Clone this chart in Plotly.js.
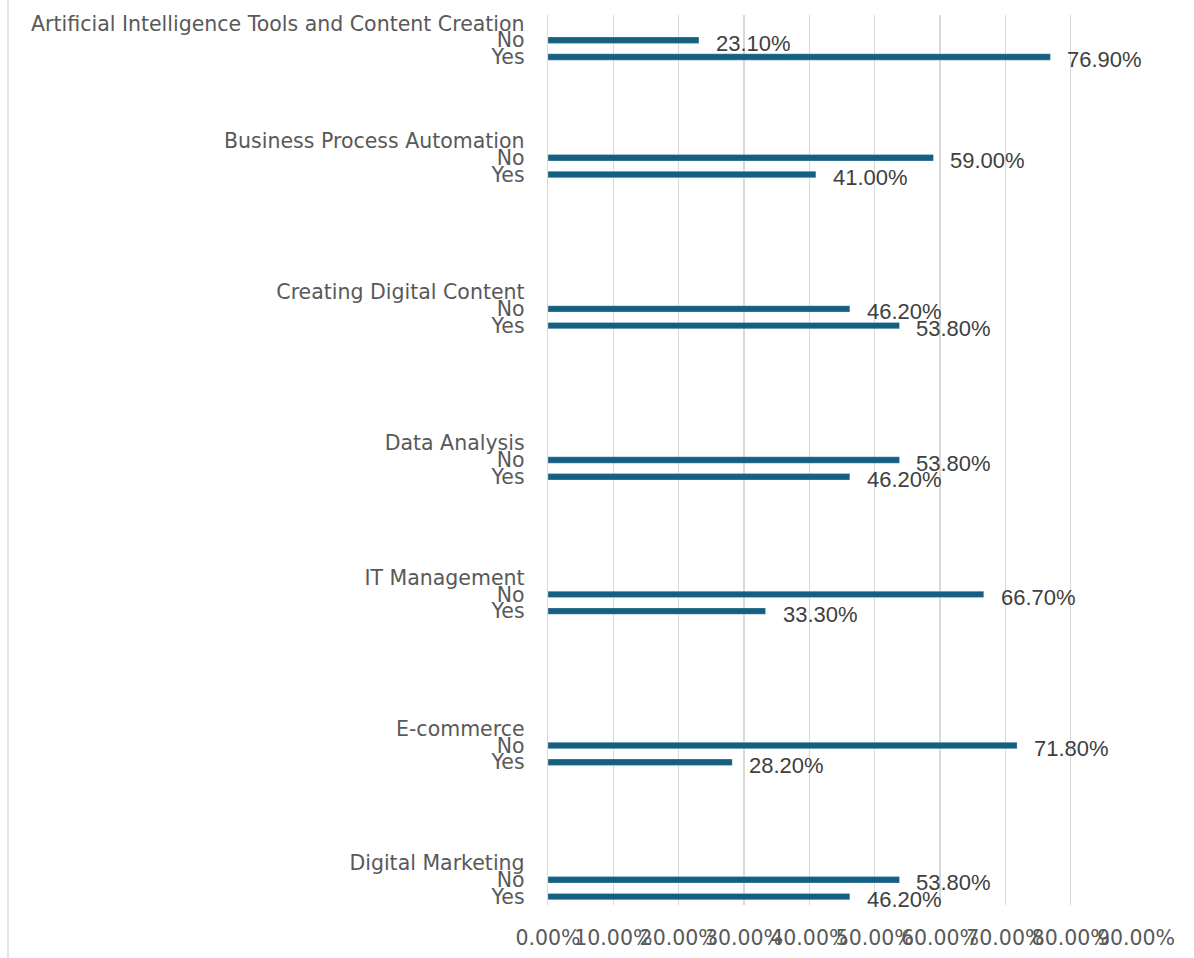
<!DOCTYPE html>
<html><head><meta charset="utf-8">
<script src="https://cdn.plot.ly/plotly-3.0.1.min.js"></script>
<style>html,body{margin:0;padding:0;background:#fff}#chart{width:1194px;height:958px}</style>
</head><body><div id="chart"></div>
<script>
// ---- data ----
const categories = [
  'Artificial Intelligence Tools and Content Creation',
  'Business Process Automation',
  'Creating Digital Content',
  'Data Analysis',
  'IT Management',
  'E-commerce',
  'Digital Marketing'
];
const answerLabels = ['No', 'Yes'];
const noValues  = [23.1, 59.0, 46.2, 53.8, 66.7, 71.8, 53.8];
const yesValues = [76.9, 41.0, 53.8, 46.2, 33.3, 28.2, 46.2];
const xTickValues = [0, 10, 20, 30, 40, 50, 60, 70, 80, 90];
const xTickLabels = ['0.00%', '10.00%', '20.00%', '30.00%', '40.00%', '50.00%', '60.00%', '70.00%', '80.00%', '90.00%'];

// ---- layout of the category rows (header row, No, Yes, then spacer rows) ----
const groupRows = [0, 7, 16, 25, 33, 42, 50];
const totalRows = 53;

const AXIS_FONT = '"DejaVu Sans", Inter, sans-serif';
const LABEL_FONT = '"Liberation Sans", Arial, sans-serif';
const barY = [], barX = [], tickVals = [], tickText = [], annotations = [];
categories.forEach((c, i) => {
  const r = groupRows[i];
  tickVals.push(r); tickText.push(c);
  [noValues[i], yesValues[i]].forEach((v, k) => {
    barY.push(r + 1 + k); barX.push(v);
    tickVals.push(r + 1 + k); tickText.push(answerLabels[k]);
    annotations.push({
      x: v, y: r + 1 + k, xref: 'x', yref: 'y',
      text: v.toFixed(2) + '%', showarrow: false,
      xanchor: 'left', yanchor: 'middle', xshift: 15, yshift: -3,
      font: {family: LABEL_FONT, size: 22, color: '#404040'}
    });
  });
});

const trace = {
  type: 'bar', orientation: 'h', x: barX, y: barY, width: 0.38,
  marker: {color: '#156082', line: {color: 'rgba(255,255,255,0.5)', width: 0.5}},
  hoverinfo: 'x+y'
};

const layout = {
  width: 1194, height: 958,
  margin: {l: 548, r: 58, t: 15, b: 53},
  paper_bgcolor: '#ffffff', plot_bgcolor: '#ffffff',
  showlegend: false,
  font: {family: AXIS_FONT, size: 20.5, color: '#595959'},
  xaxis: {
    range: [0, 90], tickmode: 'array', tickvals: xTickValues, ticktext: xTickLabels,
    tickangle: 0, showgrid: true, gridcolor: '#d9d9d9', gridwidth: 1.3,
    zeroline: false, showline: false, ticks: 'outside', ticklen: 14, tickcolor: 'rgba(0,0,0,0)',
    tickfont: {family: AXIS_FONT, size: 20.5, color: '#595959'}, fixedrange: true
  },
  yaxis: {
    range: [totalRows - 0.5, -0.5], tickmode: 'array', tickvals: tickVals, ticktext: tickText,
    showgrid: false, zeroline: false, showline: true, linecolor: '#d9d9d9', linewidth: 1.3,
    ticks: 'outside', ticklen: 18, tickcolor: 'rgba(0,0,0,0)',
    tickfont: {family: AXIS_FONT, size: 20.5, color: '#595959'}, fixedrange: true
  },
  annotations: annotations,
  shapes: [{
    type: 'line', xref: 'paper', yref: 'paper',
    x0: (8 - 548) / 588, x1: (8 - 548) / 588, y0: (905 - 0) / 890, y1: (905 - 958) / 890,
    line: {color: '#d9d9d9', width: 1.3}
  }]
};

Plotly.newPlot('chart', [trace], layout, {displayModeBar: false, staticPlot: true});
</script>
</body></html>
